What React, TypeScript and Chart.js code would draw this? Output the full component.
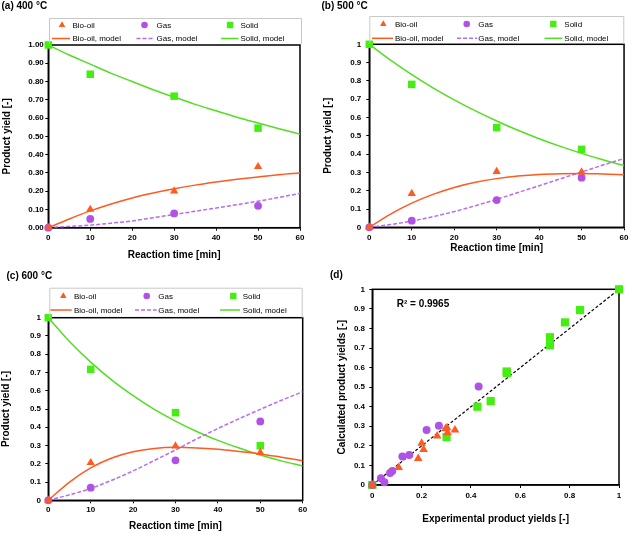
import React, { useEffect, useRef } from 'react';
import { Chart, registerables } from 'chart.js';

Chart.register(...registerables);
Chart.defaults.color = '#000';

const FONT = "'Liberation Sans', Arial, Helvetica, sans-serif";
const ORANGE = '#FF5A1F';
const PURPLE = '#B052E6';
const PURPLE_LINE = '#B86CF0';
const GREEN = '#44EE11';
const GREEN_LINE = '#55DD22';

// ---------- shared x values ----------
const expTimes = [0, 10, 30, 50];
const modelTimes = [0, 5, 10, 15, 20, 25, 30, 35, 40, 45, 50, 55, 60];
const seriesLabels = ['Bio-oil', 'Gas', 'Solid', 'Bio-oil, model', 'Gas, model', 'Solid, model'];

// ---------- (a) 400 °C ----------
const a400BioOil = [0, 0.1, 0.2, 0.334];
const a400Gas = [0, 0.048, 0.078, 0.12];
const a400Solid = [1.0, 0.84, 0.72, 0.545];
const a400BioOilModel = [0, 0.048, 0.092, 0.13, 0.163, 0.19, 0.213, 0.233, 0.25, 0.265, 0.278, 0.29, 0.299];
const a400GasModel = [0, 0.007, 0.014, 0.025, 0.037, 0.055, 0.072, 0.09, 0.108, 0.126, 0.145, 0.166, 0.188];
const a400SolidModel = [1.0, 0.945, 0.895, 0.845, 0.8, 0.755, 0.715, 0.675, 0.64, 0.605, 0.573, 0.542, 0.512];

// ---------- (b) 500 °C ----------
const b500BioOil = [0, 0.184, 0.304, 0.302];
const b500Gas = [0, 0.036, 0.149, 0.271];
const b500Solid = [1.0, 0.781, 0.545, 0.426];
const b500BioOilModel = [0, 0.072, 0.132, 0.18, 0.218, 0.246, 0.266, 0.28, 0.289, 0.293, 0.294, 0.291, 0.287];
const b500GasModel = [0, 0.015, 0.034, 0.058, 0.086, 0.118, 0.153, 0.19, 0.227, 0.265, 0.302, 0.34, 0.376];
const b500SolidModel = [1.0, 0.913, 0.834, 0.762, 0.696, 0.636, 0.581, 0.53, 0.484, 0.442, 0.404, 0.369, 0.337];

// ---------- (c) 600 °C ----------
const c600BioOil = [0, 0.206, 0.297, 0.261];
const c600Gas = [0, 0.069, 0.219, 0.432];
const c600Solid = [1.0, 0.717, 0.48, 0.299];
const c600BioOilModel = [0, 0.1, 0.178, 0.232, 0.266, 0.284, 0.29, 0.287, 0.279, 0.267, 0.254, 0.236, 0.217];
const c600GasModel = [0, 0.03, 0.065, 0.11, 0.161, 0.218, 0.276, 0.336, 0.393, 0.447, 0.498, 0.548, 0.595];
const c600SolidModel = [1.0, 0.87, 0.757, 0.658, 0.573, 0.498, 0.434, 0.377, 0.328, 0.286, 0.248, 0.216, 0.188];

// ---------- (d) parity ----------
const parityBioOilExp = [0.335, 0.297, 0.303, 0.305, 0.263, 0.2, 0.208, 0.186, 0.107, 0];
const parityBioOilCalc = [0.281, 0.288, 0.293, 0.267, 0.25, 0.213, 0.182, 0.136, 0.09, 0];
const parityGasExp = [0.431, 0.27, 0.22, 0.15, 0.122, 0.081, 0.072, 0.035, 0.049, 0];
const parityGasCalc = [0.503, 0.303, 0.281, 0.153, 0.145, 0.072, 0.061, 0.034, 0.014, 0];
const paritySolidExp = [1.0, 0.842, 0.781, 0.72, 0.72, 0.545, 0.545, 0.48, 0.426, 0.301, 0];
const paritySolidCalc = [1.0, 0.894, 0.831, 0.755, 0.714, 0.58, 0.572, 0.429, 0.4, 0.245, 0];
const parityLine = [0, 1];
const rSquaredText = 'R² = 0.9965';

function pts(xs: number[], ys: number[]) {
  return xs.map((x, i) => ({ x, y: ys[i] }));
}

type LegendCol = { m: number; l0: number; l1: number; t1: number; t2: number };
type LegendSpec = { box: [number, number, number, number]; rows: [number, number]; cols: LegendCol[] };
type DecorSpec = {
  title: string;
  titleX: number;
  titleY: number;
  legend?: LegendSpec;
  note?: { text: string; x: number; y: number };
};

function drawMarker(ctx: CanvasRenderingContext2D, style: string, x: number, y: number, r: number, color: string) {
  ctx.fillStyle = color;
  ctx.beginPath();
  if (style === 'triangle') {
    ctx.moveTo(x, y - r);
    ctx.lineTo(x + r * 0.866, y + r * 0.5);
    ctx.lineTo(x - r * 0.866, y + r * 0.5);
    ctx.closePath();
  } else if (style === 'rect') {
    ctx.rect(x - r, y - r, 2 * r, 2 * r);
  } else {
    ctx.arc(x, y, r, 0, Math.PI * 2);
  }
  ctx.fill();
}

function makeDecor(spec: DecorSpec) {
  return {
    id: 'decor',
    beforeDatasetsDraw(chart: any) {
      const { ctx, chartArea: ca } = chart;
      ctx.save();
      ctx.strokeStyle = '#000';
      ctx.lineWidth = 1.5;
      ctx.strokeRect(ca.left, ca.top, ca.right - ca.left, ca.bottom - ca.top);
      ctx.restore();
    },
    afterDraw(chart: any) {
      const ctx: CanvasRenderingContext2D = chart.ctx;
      ctx.save();
      ctx.fillStyle = '#000';
      ctx.textBaseline = 'middle';
      ctx.textAlign = 'left';
      ctx.font = `bold 10px ${FONT}`;
      ctx.fillText(spec.title, spec.titleX, spec.titleY);
      if (spec.note) {
        ctx.font = `bold 10px ${FONT}`;
        ctx.fillText(spec.note.text, spec.note.x, spec.note.y);
      }
      const lg = spec.legend;
      if (lg) {
        const [x0, y0, x1, y1] = lg.box;
        ctx.strokeStyle = '#C8C8C8';
        ctx.lineWidth = 1;
        ctx.beginPath();
        ctx.moveTo(x0 + 0.5, y1);
        ctx.lineTo(x0 + 0.5, y0 + 0.5);
        ctx.lineTo(x1 - 0.5, y0 + 0.5);
        ctx.lineTo(x1 - 0.5, y1);
        ctx.stroke();
        const ds = chart.data.datasets;
        ctx.font = `8px ${FONT}`;
        lg.cols.forEach((c, i) => {
          const mk = ds[i];
          const sizes: Record<string, number> = { triangle: 3.8, circle: 3.3, rect: 3.2 };
          drawMarker(ctx, mk.pointStyle, c.m, lg.rows[0], sizes[mk.pointStyle], mk.backgroundColor);
          ctx.fillStyle = '#000';
          ctx.fillText(mk.label, c.t1, lg.rows[0] + 0.5);
          const ln = ds[i + 3];
          ctx.strokeStyle = ln.borderColor;
          ctx.lineWidth = 1.5;
          ctx.setLineDash(ln.borderDash || []);
          ctx.beginPath();
          ctx.moveTo(c.l0, lg.rows[1]);
          ctx.lineTo(c.l1, lg.rows[1]);
          ctx.stroke();
          ctx.setLineDash([]);
          ctx.fillStyle = '#000';
          ctx.fillText(ln.label, c.t2, lg.rows[1] + 0.5);
        });
      }
      ctx.restore();
    },
  };
}

type AxisSpec = {
  title: string;
  min: number;
  max: number;
  step: number;
  size: number;
  titlePad: number;
  tickPad: number;
  fmt: (v: number) => string;
};

function makeScale(axis: 'x' | 'y', a: AxisSpec) {
  return {
    type: 'linear',
    min: a.min,
    max: a.max,
    ticks: {
      stepSize: a.step,
      font: { size: 8, weight: 'bold', family: FONT },
      color: '#000',
      padding: a.tickPad,
      maxRotation: 0,
      autoSkip: false,
      callback: (v: any) => a.fmt(Number(v)),
    },
    grid: { drawOnChartArea: false, drawTicks: true, tickLength: 3, color: '#000', tickColor: '#000', lineWidth: 1 },
    border: { display: true, color: '#000', width: 1.5 },
    title: {
      display: true,
      text: a.title,
      color: '#000',
      font: { size: 10, weight: 'bold', family: FONT, lineHeight: 1.2 },
      padding: axis === 'x' ? { top: 0, bottom: a.titlePad } : { top: a.titlePad, bottom: 0 },
    },
    afterFit: (s: any) => {
      if (axis === 'x') s.height = a.size;
      else s.width = a.size;
    },
  };
}

const fmt2 = (v: number) => v.toFixed(2);
const fmtShort = (v: number) => String(Math.round(v * 10) / 10);

type KineticSpec = {
  data: number[][];
  decor: DecorSpec;
  pad: { top: number; right: number; left: number; bottom: number };
  x: { size: number; titlePad: number; tickPad: number };
  y: { size: number; titlePad: number; tickPad: number; fmt: (v: number) => string };
};

function kineticConfig(k: KineticSpec): any {
  const [bio, gas, solid, bioM, gasM, solidM] = k.data;
  const pointDs = (label: string, ys: number[], style: string, r: number, color: string) => ({
    label,
    data: pts(expTimes, ys),
    pointStyle: style,
    pointRadius: r,
    pointHoverRadius: r,
    pointBorderWidth: 0,
    backgroundColor: color,
    borderColor: color,
    showLine: false,
    clip: false,
  });
  const lineDs = (label: string, ys: number[], color: string, dash: number[]) => ({
    label,
    data: pts(modelTimes, ys),
    showLine: true,
    pointRadius: 0,
    pointHoverRadius: 0,
    borderColor: color,
    backgroundColor: color,
    borderWidth: 1.5,
    borderDash: dash,
    cubicInterpolationMode: 'monotone',
    fill: false,
  });
  return {
    type: 'scatter',
    data: {
      datasets: [
        pointDs(seriesLabels[0], bio, 'triangle', 4.8, ORANGE),
        pointDs(seriesLabels[1], gas, 'circle', 3.9, PURPLE),
        pointDs(seriesLabels[2], solid, 'rect', 5.3, GREEN),
        lineDs(seriesLabels[3], bioM, ORANGE, []),
        lineDs(seriesLabels[4], gasM, PURPLE_LINE, [4, 2]),
        lineDs(seriesLabels[5], solidM, GREEN_LINE, []),
      ],
    },
    options: {
      responsive: false,
      animation: false,
      devicePixelRatio: 1,
      layout: { padding: k.pad },
      plugins: { legend: { display: false }, tooltip: { enabled: false }, title: { display: false } },
      scales: {
        x: makeScale('x', { title: 'Reaction time [min]', min: 0, max: 60, step: 10, fmt: (v) => String(v), ...k.x }),
        y: makeScale('y', { title: 'Product yield [-]', min: 0, max: 1, step: 0.1, ...k.y }),
      },
    },
    plugins: [makeDecor(k.decor)],
  };
}

const buildA = () =>
  kineticConfig({
    data: [a400BioOil, a400Gas, a400Solid, a400BioOilModel, a400GasModel, a400SolidModel],
    decor: {
      title: '(a) 400 °C',
      titleX: 1.5,
      titleY: 6,
      legend: {
        box: [49, 18, 302, 44],
        rows: [25, 38.5],
        cols: [
          { m: 62, l0: 52, l1: 70, t1: 72.5, t2: 72.5 },
          { m: 144.5, l0: 136.5, l1: 154, t1: 156.5, t2: 156.5 },
          { m: 230, l0: 221, l1: 238.5, t1: 240.5, t2: 240.5 },
        ],
      },
    },
    pad: { top: 45, right: 15, left: 0, bottom: 0 },
    x: { size: 39.3, titlePad: 5.3, tickPad: 2 },
    y: { size: 48.3, titlePad: 1, tickPad: 1.5, fmt: fmt2 },
  });

const buildB = () =>
  kineticConfig({
    data: [b500BioOil, b500Gas, b500Solid, b500BioOilModel, b500GasModel, b500SolidModel],
    decor: {
      title: '(b) 500 °C',
      titleX: 6.5,
      titleY: 6.5,
      legend: {
        box: [54.3, 16, 309.3, 44],
        rows: [24, 38.3],
        cols: [
          { m: 68.3, l0: 57, l1: 78, t1: 80, t2: 80 },
          { m: 151.7, l0: 142, l1: 162, t1: 163.3, t2: 163.3 },
          { m: 238.3, l0: 229.5, l1: 247.3, t1: 249.3, t2: 249.3 },
        ],
      },
    },
    pad: { top: 44.3, right: 6.7, left: 0, bottom: 0 },
    x: { size: 39.7, titlePad: 12.7, tickPad: 2.5 },
    y: { size: 54.3, titlePad: 7.3, tickPad: 5, fmt: fmtShort },
  });

const buildC = () =>
  kineticConfig({
    data: [c600BioOil, c600Gas, c600Solid, c600BioOilModel, c600GasModel, c600SolidModel],
    decor: {
      title: '(c) 600 °C',
      titleX: 6.5,
      titleY: 9.7,
      legend: {
        box: [49.3, 20.7, 302.7, 50.7],
        rows: [29, 43],
        cols: [
          { m: 63.3, l0: 50.5, l1: 71.7, t1: 74, t2: 74 },
          { m: 146.7, l0: 135, l1: 156.7, t1: 158.3, t2: 158.3 },
          { m: 233.3, l0: 220, l1: 240, t1: 242.7, t2: 242.7 },
        ],
      },
    },
    pad: { top: 50.7, right: 12.3, left: 0, bottom: 0 },
    x: { size: 33.7, titlePad: 1.3, tickPad: 2 },
    y: { size: 48.3, titlePad: 0.7, tickPad: 4.3, fmt: fmtShort },
  });

const buildD = (): any => {
  const pointDs = (label: string, xs: number[], ys: number[], style: string, r: number, color: string) => ({
    label,
    data: pts(xs, ys),
    pointStyle: style,
    pointRadius: r,
    pointHoverRadius: r,
    pointBorderWidth: 0,
    backgroundColor: color,
    borderColor: color,
    showLine: false,
    clip: false,
  });
  return {
    type: 'scatter',
    data: {
      datasets: [
        pointDs('Bio-oil', parityBioOilExp, parityBioOilCalc, 'triangle', 5, ORANGE),
        pointDs('Gas', parityGasExp, parityGasCalc, 'circle', 4, PURPLE),
        pointDs('Solid', paritySolidExp, paritySolidCalc, 'rect', 5.8, GREEN),
        {
          label: 'y = x',
          data: pts(parityLine, parityLine),
          showLine: true,
          pointRadius: 0,
          pointHoverRadius: 0,
          borderColor: '#000',
          borderWidth: 1.2,
          borderDash: [3, 2],
          fill: false,
        },
      ],
    },
    options: {
      responsive: false,
      animation: false,
      devicePixelRatio: 1,
      layout: { padding: { top: 22.3, right: 12, left: 20, bottom: 0 } },
      plugins: { legend: { display: false }, tooltip: { enabled: false }, title: { display: false } },
      scales: {
        x: makeScale('x', {
          title: 'Experimental product yields [-]',
          min: 0,
          max: 1,
          step: 0.2,
          size: 49,
          titlePad: 9,
          tickPad: 3,
          fmt: fmtShort,
        }),
        y: makeScale('y', {
          title: 'Calculated product yields [-]',
          min: 0,
          max: 1,
          step: 0.1,
          size: 37.3,
          titlePad: 1,
          tickPad: 4.3,
          fmt: fmtShort,
        }),
      },
    },
    plugins: [makeDecor({ title: '(d)', titleX: 15, titleY: 8, note: { text: rSquaredText, x: 81.7, y: 37.3 } })],
  };
};

function PanelChart(props: { left: number; top: number; width: number; height: number; build: () => any }) {
  const ref = useRef<HTMLCanvasElement>(null);
  useEffect(() => {
    const chart = new Chart(ref.current as HTMLCanvasElement, props.build());
    return () => chart.destroy();
  }, [props.build]);
  return (
    <canvas
      ref={ref}
      width={props.width}
      height={props.height}
      style={{ position: 'absolute', left: props.left, top: props.top, width: props.width, height: props.height, display: 'block' }}
    />
  );
}

export default function App() {
  return (
    <div style={{ position: 'fixed', left: 0, top: 0, width: 631, height: 534, background: '#fff', overflow: 'hidden' }}>
      <PanelChart left={0} top={0} width={315} height={267} build={buildA} />
      <PanelChart left={315} top={0} width={316} height={267} build={buildB} />
      <PanelChart left={0} top={267} width={315} height={267} build={buildC} />
      <PanelChart left={315} top={267} width={316} height={267} build={buildD} />
    </div>
  );
}
